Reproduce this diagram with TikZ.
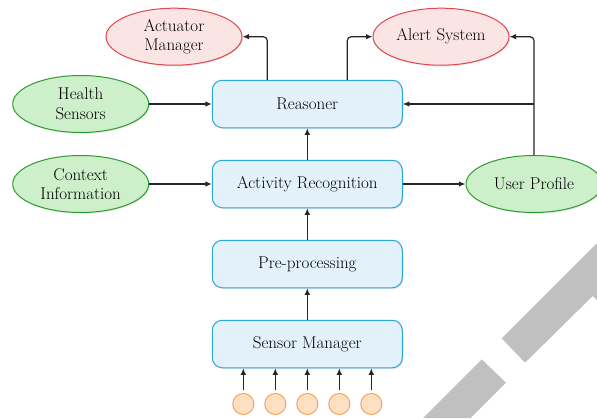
\documentclass[tikz,border=0pt]{standalone}
\usepackage{fontspec}
\setmainfont{Latin Modern Roman}
\usetikzlibrary{arrows.meta,shadows,shapes.geometric}
\definecolor{bfill}{HTML}{E2F1FA}
\definecolor{bdraw}{HTML}{29A9DF}
\definecolor{rfill}{HTML}{FBE4E4}
\definecolor{rdraw}{HTML}{E0474C}
\definecolor{gfill}{HTML}{CDF0CB}
\definecolor{gdraw}{HTML}{2E9B2E}
\definecolor{ofill}{HTML}{FFE0C2}
\definecolor{odraw}{HTML}{F5A35B}
\definecolor{band}{HTML}{C0C0C0}
\begin{document}
\begin{tikzpicture}[x=1pt,y=-1pt,
  font=\fontsize{17}{19.7}\selectfont,
  shad/.style={drop shadow={shadow xshift=1.2pt,shadow yshift=-1.2pt,opacity=0.2}},
  procbox/.style={draw=bdraw,fill=bfill,line width=1pt,rounded corners=10pt,
    minimum width=190pt,minimum height=47.5pt,inner sep=0pt,shad},
  redell/.style={ellipse,draw=rdraw,fill=rfill,line width=1pt,minimum width=136pt,
    minimum height=57pt,inner sep=0pt,align=center,shad},
  greenell/.style={ellipse,draw=gdraw,fill=gfill,line width=1pt,minimum width=136pt,
    minimum height=57pt,inner sep=0pt,align=center,shad},
  sensor/.style={circle,draw=odraw,fill=ofill,line width=1pt,minimum size=21pt,inner sep=0pt},
  arr/.style={-{Latex[length=6.5pt,width=5.5pt]},line width=1.2pt,draw=black!85},
]
\useasboundingbox (0,0) rectangle (597,418);
\clip (0,0) rectangle (597,418);
% grey band
\fill[band] (597,243) -- (501.7,338.3) -- (525,362.7) -- (592.7,296) -- (597,300) -- cycle;
\fill[band] (481.7,359.3) -- (506,382.7) -- (470.5,418) -- (423,418) -- cycle;
% nodes
\node[redell] (act) at (174,36.7) {Actuator\\Manager};
\node[redell] (alert) at (441,36.7) {Alert System};
\node[greenell] (hs) at (80.7,104) {Health\\Sensors};
\node[greenell] (ci) at (80.7,184) {Context\\Information};
\node[greenell] (up) at (534,184) {User Profile};
\node[procbox] (reas) at (307.3,104) {Reasoner};
\node[procbox] (ar) at (307.3,184) {Activity Recognition};
\node[procbox] (pre) at (307.3,264) {Pre-processing};
\node[procbox] (sm) at (307.3,344) {Sensor Manager};
\node[sensor] (s1) at (243.3,404) {};
\node[sensor] (s2) at (275.3,404) {};
\node[sensor] (s3) at (307.3,404) {};
\node[sensor] (s4) at (339.3,404) {};
\node[sensor] (s5) at (371.3,404) {};
% connectors
\draw[arr] (hs) -- (reas);
\draw[arr] (ci) -- (ar);
\draw[arr] (ar) -- (up);
\draw[arr] (ar) -- (reas);
\draw[arr] (pre) -- (ar);
\draw[arr] (sm) -- (pre);
\draw[arr,rounded corners=4pt] ([xshift=-40pt]reas.north) |- (act);
\draw[arr,rounded corners=4pt] ([xshift=40pt]reas.north) |- (alert);
\draw[arr,rounded corners=4pt] (up.north) |- (alert);
\draw[arr] (up.north |- reas) -- (reas);
\foreach \s in {s1,s2,s3,s4,s5}
  \draw[arr,shorten <=3pt] (\s) -- (\s |- sm.south);
\end{tikzpicture}
\end{document}
